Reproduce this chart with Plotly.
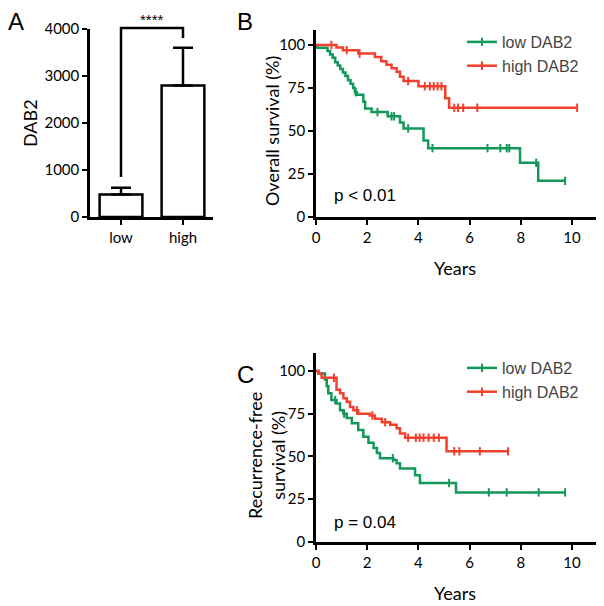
import plotly.graph_objects as go

W, H = 604, 606
OFF = 8  # page body margin
GREEN = "#12995a"
RED = "#f2402e"

# panel A
groups = ["low", "high"]
dab2_mean = [480, 2800]
dab2_err = [140, 800]

# panel B - overall survival (step curves)
os_low_t = [0, 0.05, 0.45, 0.55, 0.65, 0.75, 0.85, 0.95, 1.05, 1.15, 1.25, 1.35, 1.45, 1.52, 1.6, 1.85, 1.92,
            2.17, 2.8, 3.28, 3.42, 4.2, 4.38, 7.97, 8.68, 9.73]
os_low_s = [100, 98.4, 96.5, 94.5, 92.5, 90, 88, 86, 84, 82, 79.5, 77.5, 75, 72.5, 71, 67, 63,
            61, 58.5, 55, 51.5, 44.5, 40, 31.5, 21, 21]
os_low_cens = [1.55, 2.4, 2.95, 3.05, 3.6, 4.55, 6.7, 7.2, 7.45, 7.55, 8.6, 9.73]
os_high_t = [0, 0.8, 1.05, 1.65, 2.3, 2.55, 2.75, 2.95, 3.15, 3.28, 3.42, 4.0, 5.05, 5.2, 10.2]
os_high_s = [100, 98.5, 97, 95, 93, 90.5, 88.5, 86.5, 84.5, 81.5, 79, 76, 69, 63.5, 63.5]
os_high_cens = [0.6, 1.2, 1.7, 3.6, 4.25, 4.45, 4.6, 4.75, 4.9, 5.4, 5.55, 5.75, 6.3, 10.2]

# panel C - recurrence-free survival
rfs_low_t = [0, 0.1, 0.35, 0.42, 0.48, 0.6, 0.8, 0.94, 1.07, 1.2, 1.4, 1.65, 1.85, 2.05, 2.25, 2.38, 2.5,
             3.02, 3.15, 3.28, 3.87, 4.06, 5.47, 9.73]
rfs_low_s = [100, 98.5, 95, 91, 87, 83, 81, 77, 75, 72.5, 69.5, 65.5, 61.5, 58, 55, 52, 49,
             48, 46, 43, 39, 34.5, 29, 29]
rfs_low_cens = [0.75, 1.1, 3.0, 5.2, 6.75, 7.45, 8.7, 9.73]
rfs_high_t = [0, 0.1, 0.22, 0.8, 0.94, 1.07, 1.2, 1.33, 1.46, 1.65, 2.1, 2.3, 2.57, 2.9, 3.15, 3.28, 3.48, 5.1, 7.5]
rfs_high_s = [100, 98.5, 96, 89, 87, 84, 82, 79, 77, 75, 74, 72, 70, 68.5, 66.5, 63.5, 61, 53, 53]
rfs_high_cens = [0.7, 1.6, 2.2, 2.7, 3.6, 3.9, 4.05, 4.2, 4.4, 4.6, 4.8, 5.4, 5.6, 6.4, 7.5]

TICKFONT = dict(family="Lato", size=15, color="black")


def px(x):
    return (x - OFF) / W


def py(y):
    return 1 - (y - OFF) / H


def surv_at(t, times, surv):
    val = surv[0]
    for ti, si in zip(times, surv):
        if ti <= t:
            val = si
    return val


fig = go.Figure()

# A: bar chart
fig.add_trace(go.Bar(x=[0, 1], y=dab2_mean, width=0.69,
                     marker=dict(color="white", line=dict(color="black", width=2.5)),
                     error_y=dict(type="data", symmetric=False, array=dab2_err, arrayminus=[0, 0],
                                  color="black", thickness=2.5, width=10),
                     showlegend=False, xaxis="x", yaxis="y"))


def km(times, surv, cens, color, xa, ya):
    fig.add_trace(go.Scatter(x=times, y=surv, mode="lines", line=dict(color=color, width=2.5, shape="hv"),
                             showlegend=False, xaxis=xa, yaxis=ya, hoverinfo="skip"))
    fig.add_trace(go.Scatter(x=cens, y=[surv_at(c, times, surv) for c in cens], mode="markers",
                             marker=dict(symbol="line-ns", size=6, line=dict(color=color, width=2)),
                             showlegend=False, xaxis=xa, yaxis=ya, cliponaxis=False))


km(os_low_t, os_low_s, os_low_cens, GREEN, "x2", "y2")
km(os_high_t, os_high_s, os_high_cens, RED, "x2", "y2")
km(rfs_low_t, rfs_low_s, rfs_low_cens, GREEN, "x3", "y3")
km(rfs_high_t, rfs_high_s, rfs_high_cens, RED, "x3", "y3")

# legend entries
for name, col, xa, ya, lg in [("low DAB2", GREEN, "x2", "y2", "legend"), ("high DAB2", RED, "x2", "y2", "legend"),
                              ("low DAB2", GREEN, "x3", "y3", "legend2"), ("high DAB2", RED, "x3", "y3", "legend2")]:
    fig.add_trace(go.Scatter(x=[None], y=[None], mode="lines+markers", name=name,
                             line=dict(color=col, width=2.5),
                             marker=dict(symbol="line-ns", size=6, line=dict(color=col, width=2)),
                             xaxis=xa, yaxis=ya, legend=lg))

ax = dict(showline=True, linewidth=2.5, linecolor="black", ticks="outside", ticklen=5, tickwidth=2,
          tickcolor="black", showgrid=False, zeroline=False, tickfont=TICKFONT, fixedrange=True,
          automargin=False)

fig.update_layout(
    template="none",
    width=W, height=H, margin=dict(l=0, r=0, t=0, b=0, pad=0, autoexpand=False),
    plot_bgcolor="white", paper_bgcolor="white",
    xaxis=dict(ax, domain=[px(90), px(213)], range=[-0.5, 1.484], tickvals=[0, 1], ticktext=groups,
               anchor="y"),
    yaxis=dict(ax, domain=[py(217), py(29)], range=[0, 4000], tickvals=[0, 1000, 2000, 3000, 4000],
               anchor="x"),
    xaxis2=dict(ax, domain=[px(316), px(597.6)], range=[0, 11], tickvals=[0, 2, 4, 6, 8, 10], anchor="y2"),
    yaxis2=dict(ax, domain=[py(217), py(30)], range=[0, 108.7], tickvals=[0, 25, 50, 75, 100], anchor="x2"),
    xaxis3=dict(ax, domain=[px(316), px(597.6)], range=[0, 11], tickvals=[0, 2, 4, 6, 8, 10], anchor="y3"),
    yaxis3=dict(ax, domain=[py(542), py(353)], range=[0, 110.5], tickvals=[0, 25, 50, 75, 100], anchor="x3"),
    legend=dict(x=px(462), y=py(25), xanchor="left", yanchor="top", font=dict(family="Liberation Sans", size=16),
                bgcolor="rgba(0,0,0,0)", tracegroupgap=0, itemwidth=30),
    legend2=dict(x=px(462), y=py(351), xanchor="left", yanchor="top", font=dict(family="Liberation Sans", size=16),
                 bgcolor="rgba(0,0,0,0)", tracegroupgap=0, itemwidth=30),
)

# significance bracket
fig.add_shape(type="path", xref="x", yref="paper", path=f"M 0,{py(177)} L 0,{py(28)} L 1,{py(28)} L 1,{py(38)}",
              line=dict(color="black", width=2.5))

ann = [
    dict(text="A", x=px(16), y=py(22), size=24),
    dict(text="B", x=px(245), y=py(22), size=24),
    dict(text="C", x=px(245), y=py(375), size=24),
    dict(text="****", x=px(152), y=py(19), size=15),
    dict(text="DAB2", x=px(30), y=py(123), size=18, angle=-90, fam="Lato"),
    dict(text="Overall survival (%)", x=px(272), y=py(131), size=18, angle=-90, fam="Lato"),
    dict(text="Recurrence-free<br>survival (%)", x=px(266), y=py(456), size=18, angle=-90, fam="Lato"),
    dict(text="Years", x=px(455), y=py(268), size=18, fam="Lato"),
    dict(text="Years", x=px(455), y=py(593), size=18, fam="Lato"),
    dict(text="p < 0.01", x=px(332), y=py(195), size=17, left=True),
    dict(text="p = 0.04", x=px(332), y=py(522), size=17, left=True),
]
for a in ann:
    fig.add_annotation(text=a["text"], x=a["x"], y=a["y"], xref="paper", yref="paper", showarrow=False,
                       xanchor="left" if a.get("left") else "center", yanchor="middle",
                       textangle=a.get("angle", 0),
                       font=dict(family=a.get("fam", "Liberation Sans"), size=a["size"], color="black"))

fig.write_html("out.html")
